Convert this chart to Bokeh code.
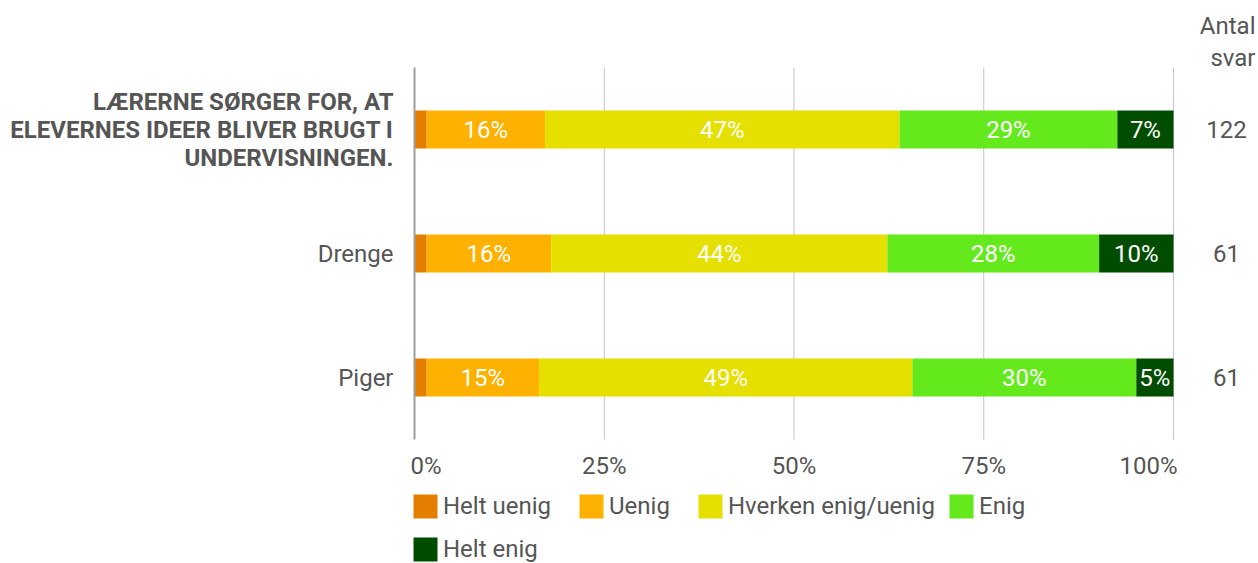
from bokeh.plotting import figure
from bokeh.models import ColumnDataSource, Range1d, Label, Legend, LegendItem
from bokeh.embed import file_html
from bokeh.resources import INLINE

# ---------------- data ----------------
categories = ["LÆRERNE SØRGER FOR, AT\nELEVERNES IDEER BLIVER BRUGT I\nUNDERVISNINGEN.", "Drenge", "Piger"]
series = ["Helt uenig", "Uenig", "Hverken enig/uenig", "Enig", "Helt enig"]
helt_uenig = [1.6, 1.6, 1.6]
uenig = [15.6, 16.4, 14.8]
hverken = [46.7, 44.3, 49.2]
enig = [28.7, 27.9, 29.5]
helt_enig = [7.4, 9.8, 4.9]
antal_svar = [122, 61, 61]
x_ticks = [0, 25, 50, 75, 100]
tick_labels = ["0%", "25%", "50%", "75%", "100%"]
header = "Antal\nsvar"

colors = ["#E37E00", "#FFB100", "#E6E000", "#64EA1C", "#004D00"]
FONT = "Roboto"
TXT = "#555555"
FS = "24px"

W, H = 1258, 563
PLOT_L, PLOT_R, PLOT_T, PLOT_B = 414, 1173, 67, 439   # pixel box of the bar area

n = len(categories)
ypos = [n - i - 0.5 for i in range(n)]
cols = ["helt_uenig", "uenig", "hverken", "enig", "helt_enig"]
vals = [helt_uenig, uenig, hverken, enig, helt_enig]
data = {"y": ypos}
for c, v in zip(cols, vals):
    data[c] = v
source = ColumnDataSource(data)

xpx = (PLOT_R - PLOT_L) / 100.0
ypx = (PLOT_B - PLOT_T) / n
x0 = -PLOT_L / xpx
x1 = 100 + (W - PLOT_R) / xpx
y0 = -(H - PLOT_B) / ypx
y1 = n + PLOT_T / ypx

p = figure(width=W, height=H, output_backend="svg", toolbar_location=None,
           x_range=Range1d(x0, x1), y_range=Range1d(y0, y1), min_border=0)
p.xaxis.visible = False
p.yaxis.visible = False
p.grid.visible = False
p.outline_line_color = None
p.background_fill_color = "white"
p.border_fill_color = "white"

# grid lines across the bar area
p.segment(x0=x_ticks[1:], x1=x_ticks[1:], y0=[0] * 4, y1=[n] * 4,
          line_color="#c4c4c4", line_width=1)

renderers = p.hbar_stack(cols, y="y", height=0.306, color=colors, line_color=None, source=source)

# baseline at 0%
p.segment(x0=[0], x1=[0], y0=[0], y1=[n], line_color="#9e9e9e", line_width=2)

# labels inside bars
lx, ly, lt = [], [], []
for i in range(n):
    start = 0.0
    for v in vals:
        val = v[i]
        if val >= 4:
            lx.append(start + val / 2)
            ly.append(ypos[i])
            lt.append(f"{val:.0f}%")
        start += val
p.text(x=lx, y=ly, text=lt, text_color="white", text_font_size=FS,
       text_align="center", text_baseline="middle", text_font={"value": FONT})

# category labels and counts
for i, cat in enumerate(categories):
    lines = cat.split("\n")
    bold = len(lines) > 1
    m = len(lines)
    for j, line in enumerate(lines):
        dy = ((m - 1) / 2 - j) * 28 / ypx
        p.add_layout(Label(x=0, y=ypos[i] + dy, x_offset=-21, text=line,
                           text_align="right", text_baseline="middle",
                           text_font=FONT, text_font_size=FS,
                           text_font_style="bold" if bold else "normal",
                           text_color=TXT))
    p.add_layout(Label(x=100, y=ypos[i], x_offset=53, text=str(antal_svar[i]),
                       text_align="center", text_baseline="middle",
                       text_font=FONT, text_font_size=FS, text_color=TXT))

# header
for j, line in enumerate(header.split("\n")):
    p.add_layout(Label(x=100, y=n + (42 - 32 * j) / ypx, x_offset=82, text=line,
                       text_align="right", text_baseline="middle",
                       text_font=FONT, text_font_size=FS, text_color=TXT))

# tick labels
for t, lab in zip(x_ticks, tick_labels):
    if t == x_ticks[0]:
        align, off = "left", -4
    elif t == x_ticks[-1]:
        align, off = "right", 4
    else:
        align, off = "center", 0
    p.add_layout(Label(x=t, y=-26 / ypx, text=lab, x_offset=off,
                       text_align=align, text_baseline="middle",
                       text_font=FONT, text_font_size=FS, text_color=TXT))

# legends
def make_legend(items, loc):
    lg = Legend(items=items, location=loc, orientation="horizontal",
                label_text_font=FONT, label_text_font_size=FS, label_text_color=TXT,
                glyph_width=30, glyph_height=30, label_standoff=3, spacing=25,
                padding=0, margin=0, border_line_color=None, background_fill_alpha=0,
                label_height=30)
    p.add_layout(lg, "center")
    return lg

make_legend([LegendItem(label=series[k], renderers=[renderers[k]]) for k in range(3)], (410, 42))
make_legend([LegendItem(label=series[3], renderers=[renderers[3]])], (946, 42))
make_legend([LegendItem(label=series[4], renderers=[renderers[4]])], (410, -1))

open("out.html", "w").write(file_html(p, INLINE))
